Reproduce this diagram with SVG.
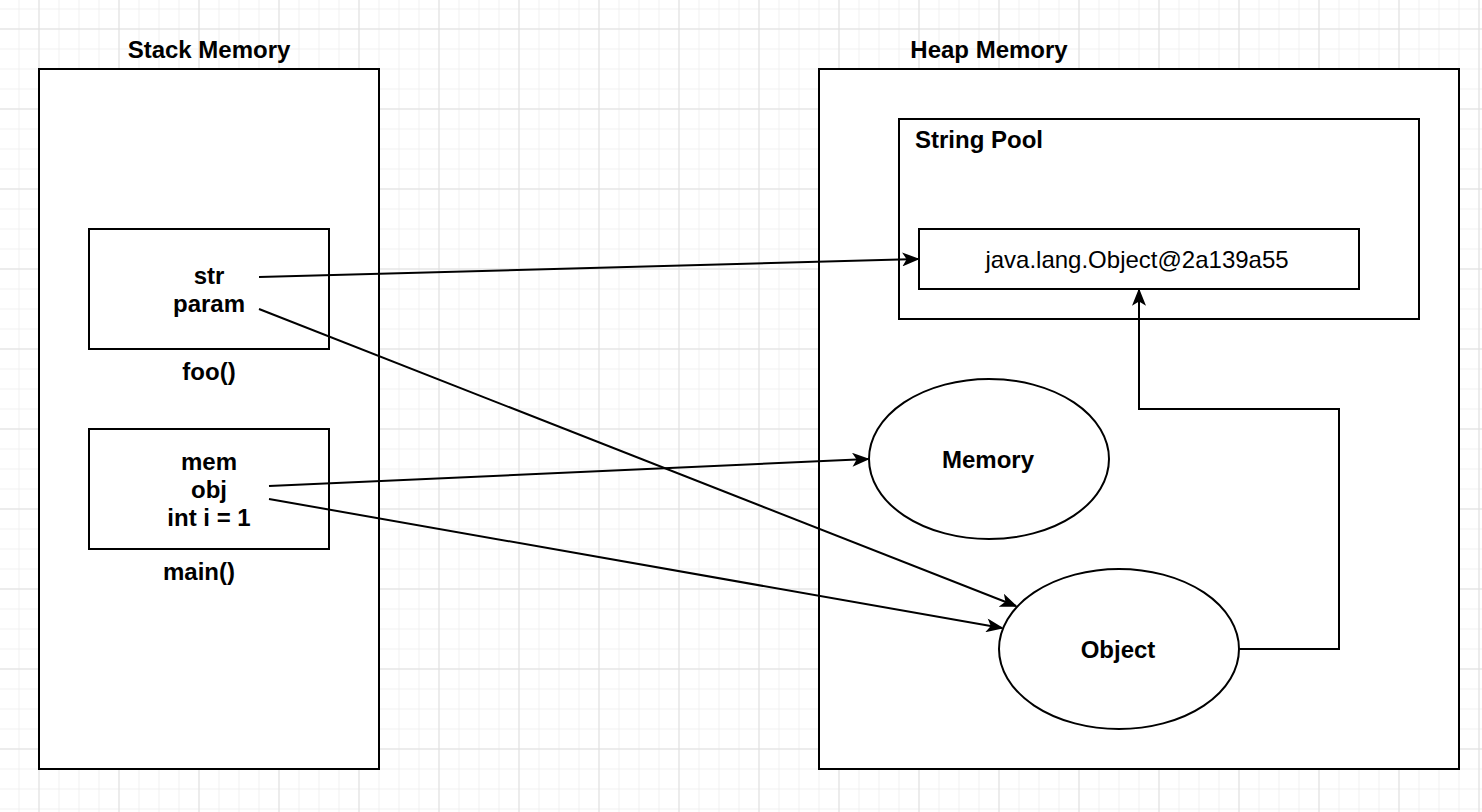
<svg xmlns="http://www.w3.org/2000/svg" width="1482" height="812" viewBox="0 0 1482 812">
<style>
.box{fill:#fff;stroke:#000;stroke-width:2}
.t{font-family:"Liberation Sans",Arial,sans-serif;font-size:24px;fill:#000}
.b{font-weight:bold}
.c{fill:none;stroke:#000;stroke-width:2}
</style>
<defs>
<pattern id="minor" width="20" height="20" patternUnits="userSpaceOnUse" x="-1.5" y="-11.5">
<path d="M0 0.5H20M0.5 0V20" fill="none" stroke="#f0f0f0" stroke-width="1"/>
</pattern>
<pattern id="major" width="80" height="80" patternUnits="userSpaceOnUse" x="-41.5" y="-51.5">
<path d="M0 0.5H80M0.5 0V80" fill="none" stroke="#e0e0e0" stroke-width="1"/>
</pattern>
<marker id="arr" viewBox="0 0 20 16" refX="18" refY="8" markerWidth="18" markerHeight="14" markerUnits="userSpaceOnUse" orient="auto">
<path d="M0 0L20 8L0 16L5 8Z" fill="#000"/>
</marker>
</defs>
<rect width="1482" height="812" fill="#fff"/>
<rect width="1482" height="812" fill="url(#minor)"/>
<rect width="1482" height="812" fill="url(#major)"/>

<g id="stack">
<rect class="box" x="39" y="69" width="340" height="700"/>
<text class="t b" x="209" y="58" text-anchor="middle">Stack Memory</text>
</g>
<g id="foo">
<rect class="box" x="89" y="229" width="240" height="120"/>
<text class="t b" x="209" y="284" text-anchor="middle">str</text>
<text class="t b" x="209" y="312" text-anchor="middle">param</text>
<text class="t b" x="209" y="380" text-anchor="middle">foo()</text>
</g>
<g id="main">
<rect class="box" x="89" y="429" width="240" height="120"/>
<text class="t b" x="209" y="470" text-anchor="middle">mem</text>
<text class="t b" x="209" y="498" text-anchor="middle">obj</text>
<text class="t b" x="209" y="526" text-anchor="middle">int i = 1</text>
<text class="t b" x="199" y="580" text-anchor="middle">main()</text>
</g>
<g id="heap">
<rect class="box" x="819" y="69" width="640" height="700"/>
<text class="t b" x="989" y="58" text-anchor="middle">Heap Memory</text>
</g>
<g id="stringpool">
<rect class="box" x="899" y="119" width="520" height="200"/>
<text class="t b" x="915" y="148">String Pool</text>
</g>
<g id="strobj">
<rect class="box" x="919" y="229" width="440" height="60"/>
<text class="t" x="1137" y="268" text-anchor="middle">java.lang.Object@2a139a55</text>
</g>
<g id="memory">
<ellipse class="box" cx="989" cy="459" rx="120" ry="80" stroke-width="1.5"/>
<text class="t b" x="988" y="468" text-anchor="middle">Memory</text>
</g>
<g id="object">
<ellipse class="box" cx="1119" cy="649" rx="120" ry="80" stroke-width="1.5"/>
<text class="t b" x="1118" y="658" text-anchor="middle">Object</text>
</g>

<g id="connectors">
<path class="c" d="M259 277L918 259" marker-end="url(#arr)"/>
<path class="c" d="M259 309L1016 606" marker-end="url(#arr)"/>
<path class="c" d="M269 486L868 459" marker-end="url(#arr)"/>
<path class="c" d="M269 499L1002 628" marker-end="url(#arr)"/>
<path class="c" d="M1239 649H1339V409H1139V290" marker-end="url(#arr)"/>
</g>
</svg>
